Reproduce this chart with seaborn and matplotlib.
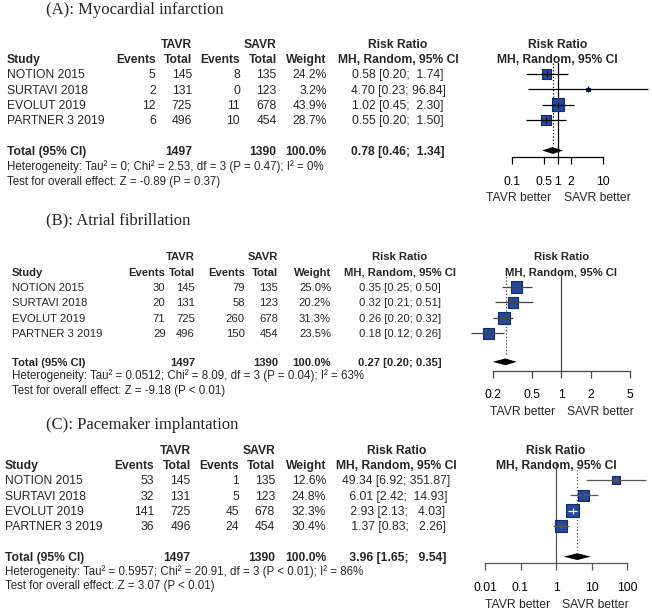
import numpy as np
import pandas as pd
import matplotlib
matplotlib.use("Agg")
import matplotlib.pyplot as plt
import seaborn as sns

# shared study info
studies = ["NOTION 2015", "SURTAVI 2018", "EVOLUT 2019", "PARTNER 3 2019"]
tavr_total = [145, 131, 725, 496]
savr_total = [135, 123, 678, 454]
tavr_sum = 1497
savr_sum = 1390

titles = ["(A): Myocardial infarction", "(B): Atrial fibrillation", "(C): Pacemaker implantation"]

# (A) myocardial infarction
mi_tavr_events = [5, 2, 12, 6]
mi_savr_events = [8, 0, 11, 10]
mi_weight = [24.2, 3.2, 43.9, 28.7]
mi_rr = [0.58, 4.70, 1.02, 0.55]
mi_lower = [0.20, 0.23, 0.45, 0.20]
mi_upper = [1.74, 96.84, 2.30, 1.50]
mi_pooled = [0.78, 0.46, 1.34]
mi_het = "Heterogeneity: Tau² = 0; Chi² = 2.53, df = 3 (P = 0.47); I² = 0%"
mi_test = "Test for overall effect: Z = -0.89 (P = 0.37)"
mi_ticks = [0.1, 0.5, 1, 2, 10]
mi_tick_labels = ["0.1", "0.5", "1", "2", "10"]

# (B) atrial fibrillation
af_tavr_events = [30, 20, 71, 29]
af_savr_events = [79, 58, 260, 150]
af_weight = [25.0, 20.2, 31.3, 23.5]
af_rr = [0.35, 0.32, 0.26, 0.18]
af_lower = [0.25, 0.21, 0.20, 0.12]
af_upper = [0.50, 0.51, 0.32, 0.26]
af_pooled = [0.27, 0.20, 0.35]
af_het = "Heterogeneity: Tau² = 0.0512; Chi² = 8.09, df = 3 (P = 0.04); I² = 63%"
af_test = "Test for overall effect: Z = -9.18 (P < 0.01)"
af_ticks = [0.2, 0.5, 1, 2, 5]
af_tick_labels = ["0.2", "0.5", "1", "2", "5"]

# (C) pacemaker implantation
pm_tavr_events = [53, 32, 141, 36]
pm_savr_events = [1, 5, 45, 24]
pm_weight = [12.6, 24.8, 32.3, 30.4]
pm_rr = [49.34, 6.01, 2.93, 1.37]
pm_lower = [6.92, 2.42, 2.13, 0.83]
pm_upper = [351.87, 14.93, 4.03, 2.26]
pm_pooled = [3.96, 1.65, 9.54]
pm_het = "Heterogeneity: Tau² = 0.5957; Chi² = 20.91, df = 3 (P < 0.01); I² = 86%"
pm_test = "Test for overall effect: Z = 3.07 (P < 0.01)"
pm_ticks = [0.01, 0.1, 1, 10, 100]
pm_tick_labels = ["0.01", "0.1", "1", "10", "100"]

W, H = 652, 611
FS_SMALL = 8.3
FS_TITLE = 12
BOX_FILL = "#24489a"
BOX_EDGE = "#14296b"
BOX_SIDE = 13.5  # px, box side for the biggest weight


def rr_strings(rr, lower, upper, pooled):
    # R style padding, everything formatted to the same width
    est = [f"{v:.2f}" for v in list(rr) + [pooled[0]]]
    lo = [f"{v:.2f}" for v in list(lower) + [pooled[1]]]
    up = [f"{v:.2f}" for v in list(upper) + [pooled[2]]]
    we = max(len(s) for s in est)
    wl = max(len(s) for s in lo)
    wu = max(len(s) for s in up)
    return [f"{e:>{we}} [{l:>{wl}}; {u:>{wu}}]" for e, l, u in zip(est, lo, up)]


def txt(x, y, s, size, ha="left", bold=False, **kw):
    # y is the visual centre of the text line in pixels
    bg.text(x, y + 0.358 * size / 0.72, s, ha=ha, va="baseline", fontsize=size,
            fontweight="bold" if bold else "normal", **kw)


def draw_panel(p):
    row0, step = p["row0"], p["step"]
    ry = lambda r: row0 + r * step
    c_study, c_ev1, c_tot1, c_ev2, c_tot2, c_w, c_rr = p["cols"]
    fs = p["fs"]

    # title
    bg.text(46, p["title_y"], p["title"], ha="left", va="center", fontsize=FS_TITLE,
            family=["Liberation Serif", "DejaVu Serif"])

    # table header
    txt(c_tot1, ry(-2), "TAVR", fs, ha="right", bold=True)
    txt(c_tot2, ry(-2), "SAVR", fs, ha="right", bold=True)
    txt(c_rr, ry(-2), "Risk Ratio", fs, ha="center", bold=True)
    txt(c_study, ry(-1), "Study", fs, bold=True)
    txt(c_ev1, ry(-1), "Events", fs, ha="right", bold=True)
    txt(c_tot1, ry(-1), "Total", fs, ha="right", bold=True)
    txt(c_ev2, ry(-1), "Events", fs, ha="right", bold=True)
    txt(c_tot2, ry(-1), "Total", fs, ha="right", bold=True)
    txt(c_w, ry(-1), "Weight", fs, ha="right", bold=True)
    txt(c_rr, ry(-1), "MH, Random, 95% CI", fs, ha="center", bold=True)

    labels = rr_strings(p["rr"], p["lower"], p["upper"], p["pooled"])
    for i, name in enumerate(studies):
        y = ry(i)
        txt(c_study, y, name, fs)
        txt(c_ev1, y, str(p["tavr_events"][i]), fs, ha="right")
        txt(c_tot1, y, str(tavr_total[i]), fs, ha="right")
        txt(c_ev2, y, str(p["savr_events"][i]), fs, ha="right")
        txt(c_tot2, y, str(savr_total[i]), fs, ha="right")
        txt(c_w, y, f"{p['weight'][i]:.1f}%", fs, ha="right")
        txt(c_rr, y, labels[i], fs, ha="center")

    ty = ry(p["total_row"])
    txt(c_study, ty, "Total (95% CI)", fs, bold=True)
    txt(c_tot1, ty, str(tavr_sum), fs, ha="right", bold=True)
    txt(c_tot2, ty, str(savr_sum), fs, ha="right", bold=True)
    txt(c_w, ty, "100.0%", fs, ha="right", bold=True)
    txt(c_rr, ty, labels[-1], fs, ha="center", bold=True)
    txt(c_study, ty + p["het_dy"], p["het"], FS_SMALL)
    txt(c_study, ty + p["test_dy"], p["test"], FS_SMALL)

    # forest part
    ticks = p["ticks"]
    px0, px1 = p["tick_px"]
    ppd = (px1 - px0) / (np.log10(ticks[-1]) - np.log10(ticks[0]))
    one_px = px0 - np.log10(ticks[0]) * ppd
    left = 465
    top, axis_y = p["top"], p["axis_y"]
    ax = fig.add_axes([left / W, 1 - axis_y / H, (W - left) / W, (axis_y - top) / H])
    ax.patch.set_alpha(0)
    ax.set_xscale("log")

    line = p["line"]
    wmax = max(p["weight"])
    df = pd.DataFrame({"rr": p["rr"], "row": np.arange(len(studies)), "weight": p["weight"]})
    s_max = ((BOX_SIDE - 0.8) * 0.72) ** 2
    sns.scatterplot(data=df, x="rr", y="row", size="weight", sizes=(0, s_max),
                    size_norm=(0, wmax), marker="s", color=BOX_FILL, edgecolor=BOX_EDGE,
                    linewidth=0.8, legend=False, ax=ax, zorder=3)

    for i in range(len(studies)):
        est, lo, hi = p["rr"][i], p["lower"][i], p["upper"][i]
        half = BOX_SIDE / 2 * np.sqrt(p["weight"][i] / wmax)
        inside = np.log10(est / lo) * ppd <= half and np.log10(hi / est) * ppd <= half
        c = "white" if inside else line
        ax.hlines(i, lo, hi, colors=c, lw=0.9, zorder=4)
        ax.plot(est, i, marker="|", ms=4, mew=0.9, color=c, zorder=4)

    est, lo, hi = p["pooled"]
    tr = p["total_row"]
    ax.fill([lo, est, hi, est], [tr, tr - 0.22, tr, tr + 0.22], color="black", lw=0, zorder=3)

    ytop = (top - row0) / step
    ybot = (axis_y - row0) / step
    ax.axvline(1, color=line, lw=0.9, zorder=1)
    ax.vlines(est, ytop, tr - 0.45, colors=line, linestyles=":", lw=0.9, zorder=1)

    ax.set_xlim(10 ** ((left - one_px) / ppd), 10 ** ((W - one_px) / ppd))
    ax.set_ylim(ybot, ytop)
    for s in ("top", "right", "left"):
        ax.spines[s].set_visible(False)
    ax.spines["bottom"].set_bounds(ticks[0], ticks[-1])
    ax.spines["bottom"].set_color(line)
    ax.spines["bottom"].set_linewidth(0.9)
    ax.set_xticks(ticks, labels=p["tick_labels"])
    ax.set_xticks([], minor=True)
    ax.set_yticks([])
    ax.set_xlabel("")
    ax.set_ylabel("")
    ax.tick_params(axis="x", bottom=True, direction="out", length=5, width=0.9, color=line,
                   pad=8.5, labelsize=8.7, labelcolor="black")

    # forest header + direction labels
    txt(one_px, ry(-2), "Risk Ratio", fs, ha="center", bold=True)
    txt(one_px, ry(-1), "MH, Random, 95% CI", fs, ha="center", bold=True)
    txt(one_px - 6, axis_y + 40, "TAVR better", 8.7, ha="right")
    txt(one_px + 6, axis_y + 40, "SAVR better", 8.7, ha="left")


sns.set_theme(style="white")
plt.rcParams["font.family"] = ["Liberation Sans", "DejaVu Sans"]

panels = [
    dict(title=titles[0], tavr_events=mi_tavr_events, savr_events=mi_savr_events,
         weight=mi_weight, rr=mi_rr, lower=mi_lower, upper=mi_upper, pooled=mi_pooled,
         het=mi_het, test=mi_test, ticks=mi_ticks, tick_labels=mi_tick_labels, fs=8.7,
         title_y=10, row0=74, step=15.3, total_row=5.0, het_dy=15, test_dy=30,
         top=63, axis_y=157, tick_px=(512, 603),
         cols=(7, 155.7, 192, 240, 276.7, 326.7, 398), line="black"),
    dict(title=titles[1], tavr_events=af_tavr_events, savr_events=af_savr_events,
         weight=af_weight, rr=af_rr, lower=af_lower, upper=af_upper, pooled=af_pooled,
         het=af_het, test=af_test, ticks=af_ticks, tick_labels=af_tick_labels, fs=8.1,
         title_y=220, row0=287, step=15.43, total_row=4.85, het_dy=13.5, test_dy=28.5,
         top=270, axis_y=370.7, tick_px=(492.7, 630),
         cols=(11.7, 165.5, 195, 245, 278, 331, 400), line="#444444"),
    dict(title=titles[2], tavr_events=pm_tavr_events, savr_events=pm_savr_events,
         weight=pm_weight, rr=pm_rr, lower=pm_lower, upper=pm_upper, pooled=pm_pooled,
         het=pm_het, test=pm_test, ticks=pm_ticks, tick_labels=pm_tick_labels, fs=8.7,
         title_y=425, row0=480, step=15.33, total_row=5.0, het_dy=14, test_dy=28.3,
         top=463, axis_y=563.3, tick_px=(485, 627),
         cols=(5, 154, 190.7, 239, 275, 326, 396.5), line="#555555"),
]

fig = plt.figure(figsize=(W / 100, H / 100), dpi=100)
bg = fig.add_axes([0, 0, 1, 1])
bg.set_xlim(0, W)
bg.set_ylim(H, 0)
bg.axis("off")

for p in panels:
    draw_panel(p)

fig.savefig("out.png", dpi=100)
